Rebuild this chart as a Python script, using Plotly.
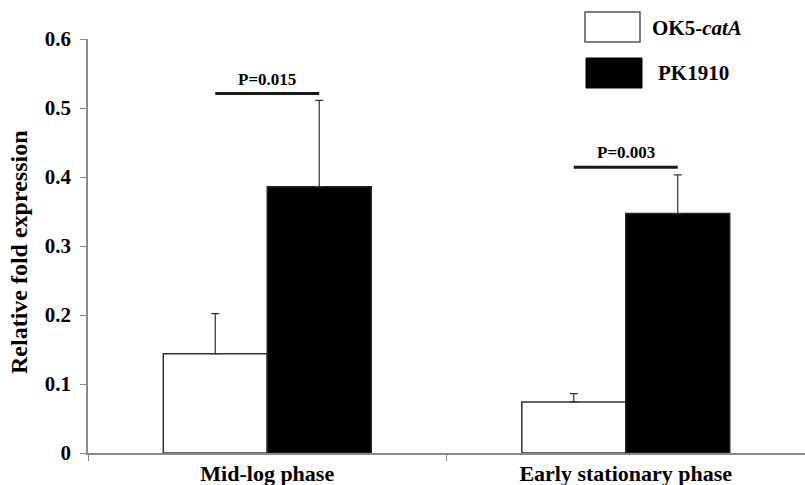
import plotly.graph_objects as go

# ---- data ----
categories = ["Mid-log phase", "Early stationary phase"]
series_names = ["OK5-<i>catA</i>", "PK1910"]
ok5_values = [0.144, 0.074]
ok5_errors = [0.058, 0.012]
pk_values = [0.386, 0.347]
pk_errors = [0.125, 0.056]
p_labels = ["P=0.015", "P=0.003"]
p_heights = [0.521, 0.414]
y_ticks = [0, 0.1, 0.2, 0.3, 0.4, 0.5, 0.6]
y_ticktext = ["0", "0.1", "0.2", "0.3", "0.4", "0.5", "0.6"]

FONT = "Liberation Serif"
W, H = 805, 485
ML, MR, MT, MB = 88, 0, 39, 32
PW, PH = W - ML - MR, H - MT - MB
BARGAP = 0.42
BAR_W = (1 - BARGAP) / 2

def px_x(px):
    return (px - ML) / PW

def px_y(py):
    return (H - MB - py) / PH

fig = go.Figure()
fig.add_trace(go.Bar(
    x=categories, y=ok5_values, name=series_names[0],
    marker=dict(color="white", line=dict(color="#333333", width=1.5)),
    error_y=dict(type="data", array=ok5_errors, arrayminus=[0] * len(ok5_errors),
                 symmetric=False, color="#333333", thickness=1.2, width=4),
    showlegend=False,
))
fig.add_trace(go.Bar(
    x=categories, y=pk_values, name=series_names[1],
    marker=dict(color="black", line=dict(color="#222222", width=1.5)),
    error_y=dict(type="data", array=pk_errors, arrayminus=[0] * len(pk_errors),
                 symmetric=False, color="#333333", thickness=1.2, width=4),
    showlegend=False,
))

shapes = []
annotations = []
# significance lines between bar centres
for i, (lab, h) in enumerate(zip(p_labels, p_heights)):
    x0 = i - BAR_W / 2
    x1 = i + BAR_W / 2
    shapes.append(dict(type="line", xref="x", yref="y", x0=x0, x1=x1, y0=h, y1=h,
                       line=dict(color="#1a1a1a", width=3)))
    annotations.append(dict(x=i, y=h, xref="x", yref="y", text=lab, showarrow=False,
                            yanchor="bottom", yshift=3,
                            font=dict(family=FONT, size=17, color="black", weight="bold")))

# custom legend boxes
shapes.append(dict(type="rect", xref="paper", yref="paper",
                   x0=px_x(585), x1=px_x(640), y0=px_y(42), y1=px_y(12),
                   fillcolor="white", line=dict(color="#555555", width=1.5)))
shapes.append(dict(type="rect", xref="paper", yref="paper",
                   x0=px_x(586), x1=px_x(642), y0=px_y(88), y1=px_y(58),
                   fillcolor="black", line=dict(color="black", width=1)))
annotations.append(dict(x=px_x(650), y=px_y(28), xref="paper", yref="paper",
                        text=series_names[0], showarrow=False, xanchor="left", yanchor="middle",
                        font=dict(family=FONT, size=21, color="black", weight="bold")))
annotations.append(dict(x=px_x(656), y=px_y(73), xref="paper", yref="paper",
                        text=series_names[1], showarrow=False, xanchor="left", yanchor="middle",
                        font=dict(family=FONT, size=21, color="black", weight="bold")))
# y-axis title
annotations.append(dict(x=px_x(19), y=px_y(252), xref="paper", yref="paper",
                        text="Relative fold expression", textangle=-90, showarrow=False,
                        xanchor="center", yanchor="middle",
                        font=dict(family=FONT, size=24, color="black", weight="bold")))

fig.update_layout(
    width=W, height=H,
    margin=dict(l=ML, r=MR, t=MT, b=MB),
    paper_bgcolor="white", plot_bgcolor="white",
    barmode="group", bargap=BARGAP, bargroupgap=0,
    shapes=shapes, annotations=annotations,
    font=dict(family=FONT, color="black"),
)
fig.update_xaxes(
    type="category", range=[-0.5, 1.5],
    showline=True, linecolor="#8a8a8a", linewidth=1.5,
    ticks="outside", tickson="boundaries", ticklen=6, tickcolor="#8a8a8a",
    showgrid=False, zeroline=False, ticklabelstandoff=0,
    tickfont=dict(family=FONT, size=22, color="black", weight="bold"),
)
fig.update_yaxes(
    range=[0, 0.6], tickvals=y_ticks, ticktext=y_ticktext,
    showline=True, linecolor="#8a8a8a", linewidth=1.5,
    ticks="outside", ticklen=6, tickcolor="#8a8a8a",
    showgrid=False, zeroline=False, ticklabelstandoff=5,
    tickfont=dict(family=FONT, size=21, color="black", weight="bold"),
)

fig.write_html("out.html")
